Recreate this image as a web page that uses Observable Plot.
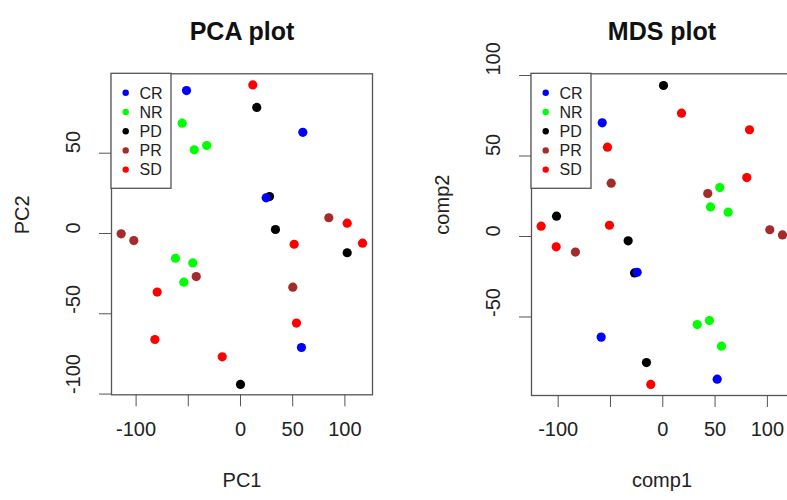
<!DOCTYPE html>
<html><head><meta charset="utf-8">
<script src="https://cdn.jsdelivr.net/npm/d3@7"></script>
<script src="https://cdn.jsdelivr.net/npm/@observablehq/plot@0.6"></script>
<style>
body{margin:0;background:#fff}
#wrap{position:relative;width:787px;height:500px;overflow:hidden;background:#fff}
#wrap svg{position:absolute;top:0}
</style>
</head><body><div id="wrap"></div>
<script>
const groups = ["CR","NR","PD","PR","SD"];
const groupColors = ["#0000FF","#00FF00","#000000","#A52A2A","#FF0000"];

// PCA plot data (PD first so CR overlaps on top)
const pcaGroup = ["PD","PD","PD","PD","PD",
  "CR","CR","CR","CR",
  "NR","NR","NR","NR","NR","NR",
  "PR","PR","PR","PR","PR",
  "SD","SD","SD","SD","SD","SD","SD","SD"];
const pcaX = [15.6,27.8,33.5,102.2,0,
  -51.7,59.7,24.6,58.4,
  -55.9,-44.3,-32.3,-62.3,-45.7,-54.3,
  84.6,-114.3,-102.2,-42.4,50.1,
  11.8,102.2,51.4,116.9,-79.8,53.6,-82,-17.5];
const pcaY = [78.5,23,2.5,-12,-94,
  89,63,22.2,-71,
  68.7,52.1,54.8,-15.4,-18.3,-30.3,
  9.8,-0.2,-4.4,-26.8,-33.4,
  92.5,6.4,-6.7,-6,-36.5,-55.8,-66,-76.8];

// MDS plot data
const mdsGroup = ["PD","PD","PD","PD","PD",
  "CR","CR","CR","CR",
  "NR","NR","NR","NR","NR","NR",
  "PR","PR","PR","PR","PR",
  "SD","SD","SD","SD","SD","SD","SD","SD"];
const mdsX = [0.7,-101.6,-33.1,-27,-15.6,
  -57.9,-24.5,-58.9,52,
  54.5,45.6,62.5,32.9,44.6,56.1,
  -49.3,43,102.3,114.4,-83.5,
  17.9,82.9,-52.9,80.3,-51,-116.3,-101.9,-11.5];
const mdsY = [93.8,12.6,-2.7,-22.6,-78.3,
  70.6,-22.2,-62.5,-88.6,
  30.4,18.4,15.1,-54.7,-52.2,-68.1,
  33.1,26.7,4.2,1,-9.7,
  76.6,66.3,55.5,36.6,7,6.4,-6.4,-91.9];

const pcaXTicks = [-100,-50,0,50,100];
const pcaXLabels = ["-100","","0","50","100"];
const pcaYTicks = [-100,-50,0,50];
const mdsXTicks = [-100,-50,0,50,100];
const mdsXLabels = ["-100","","0","50","100"];
const mdsYTicks = [-50,0,50,100];

const FONT = "Liberation Sans, Arial, Helvetica, sans-serif";
const AX = "#555";

function panel(o) {
  const ml = 111, mt = 73.3;
  const pts = o.x.map((x, i) => ({x, y: o.y[i], g: o.g[i]}));
  const svg = Plot.plot({
    width: o.width, height: 500,
    marginLeft: ml, marginRight: o.marginRight, marginTop: mt, marginBottom: o.marginBottom,
    style: {fontFamily: FONT, background: "white", overflow: "visible"},
    x: {domain: o.xDomain, axis: null},
    y: {domain: o.yDomain, axis: null},
    color: {domain: groups, range: groupColors},
    marks: [
      Plot.axisX({ticks: o.xTicks, tickSize: 12, tickFormat: () => "", stroke: AX, label: null}),
      Plot.axisY({ticks: o.yTicks, tickSize: 12, tickFormat: () => "", stroke: AX, label: null}),
      Plot.text(o.xTicks, {x: d => d, text: (d, i) => o.xLabels[i], frameAnchor: "bottom", dy: o.xLabDy, fontSize: 20, fill: "#222"}),
      Plot.text(o.yTicks, {y: d => d, text: d => String(d), frameAnchor: "left", dx: -38, rotate: -90, fontSize: 20, fill: "#222"}),
      Plot.text([o.xLabel], {text: d => d, frameAnchor: "bottom", dy: o.xTitleDy, fontSize: 20, fill: "#222"}),
      Plot.text([o.yLabel], {text: d => d, frameAnchor: "left", dx: -89, rotate: -90, fontSize: 20, fill: "#222"}),
      Plot.text([o.title], {text: d => d, frameAnchor: "top", dy: -52, fontSize: 25, fontWeight: "bold", fill: "#111"}),
      Plot.frame({stroke: AX, strokeWidth: 1.3}),
      Plot.dot(pts, {x: "x", y: "y", fill: "g", r: 4.6})
    ]
  });
  const s = d3.select(svg);
  const lg = s.append("g");
  lg.append("rect").attr("x", ml).attr("y", mt).attr("width", 60).attr("height", 115)
    .attr("fill", "white").attr("stroke", AX).attr("stroke-width", 1.3);
  groups.forEach((g, i) => {
    const yy = mt + 19.5 + i * 19.2;
    lg.append("circle").attr("cx", ml + 14.7).attr("cy", yy).attr("r", 3.2).attr("fill", groupColors[i]);
    lg.append("text").attr("x", ml + 28.5).attr("y", yy).attr("dy", "0.36em")
      .attr("text-anchor", "start")
      .attr("font-size", 16).attr("font-family", FONT).attr("fill", "#222").text(g);
  });
  svg.style.left = o.left + "px";
  return svg;
}

const wrap = document.getElementById("wrap");
wrap.appendChild(panel({
  left: 0, width: 394, marginRight: 22, marginBottom: 105.7,
  x: pcaX, y: pcaY, g: pcaGroup,
  xDomain: [-123.56, 126.44], yDomain: [-100.44, 99.44],
  xTicks: pcaXTicks, xLabels: pcaXLabels, yTicks: pcaYTicks,
  xLabDy: 41, xTitleDy: 92,
  xLabel: "PC1", yLabel: "PC2", title: "PCA plot"
}));
wrap.appendChild(panel({
  left: 420, width: 400, marginRight: 28, marginBottom: 105,
  x: mdsX, y: mdsY, g: mdsGroup,
  xDomain: [-125.5, 124], yDomain: [-98.76, 101.06],
  xTicks: mdsXTicks, xLabels: mdsXLabels, yTicks: mdsYTicks,
  xLabDy: 40.5, xTitleDy: 91.5,
  xLabel: "comp1", yLabel: "comp2", title: "MDS plot"
}));
</script>
</body></html>
